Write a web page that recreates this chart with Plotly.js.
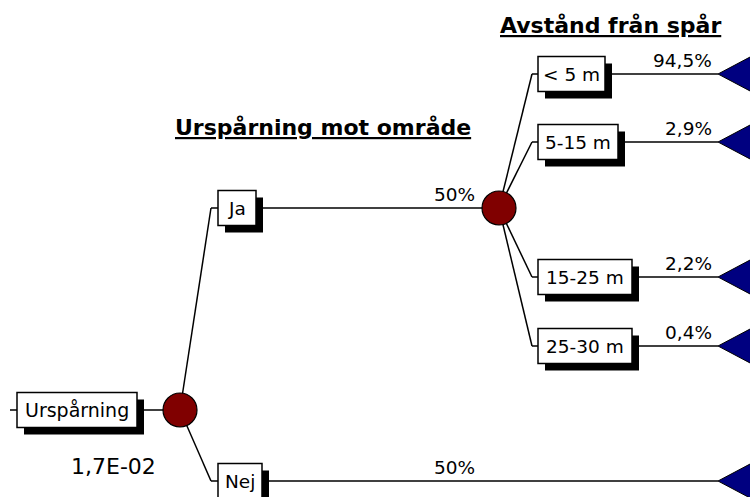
<!DOCTYPE html>
<html>
<head>
<meta charset="utf-8">
<script src="https://cdn.plot.ly/plotly-3.0.1.min.js"></script>
<style>html,body{margin:0;padding:0;background:#fff;}#chart{width:750px;height:497px;}</style>
</head>
<body>
<div id="chart"></div>
<script>
// ---- data ----
const rootLabel = "Urspårning";
const rootFrequency = 0.017;                 // shown as 1,7E-02
const columnTitles = ["Urspårning mot område", "Avstånd från spår"];
const level1Labels = ["Ja", "Nej"];
const level1Probs = [50, 50];               // percent
const level2Labels = ["< 5 m", "5-15 m", "15-25 m", "25-30 m"];
const level2Probs = [94.5, 2.9, 2.2, 0.4];  // percent

// ---- geometry (pixel-like coordinates of the diagram space) ----
const geo = {
  r: 17, boxH: 35, shadow: 7, tri: {len: 34, half: 18},
  root: {y: 410, stubL: 10, boxL: 17, boxR: 137, nodeX: 180},
  l1: {ys: [208, 481], elbowX: 211, boxL: 218, boxW: [38, 44], nodeX: 499, endX: 718, labelR: 477},
  l2: {ys: [74, 142, 277, 346], elbowX: 532, boxL: 538, boxW: [67, 80, 94, 94], endX: 718, labelR: 714},
  freq: {x: 113, y: 466},
  titles: [{x: 323, y: 127}, {x: 610, y: 25}]
};

const FONT = "DejaVu Sans, Arial, sans-serif";
const fmtPct = v => String(v).replace(".", ",") + "%";
function fmtSci(v) {
  const [m, e] = v.toExponential(1).split("e");
  const ei = parseInt(e, 10);
  return m.replace(".", ",") + "E" + (ei < 0 ? "-" : "+") + String(Math.abs(ei)).padStart(2, "0");
}

const lines = [], shadows = [], boxes = [], nodes = [], tris = [], ann = [];
const LN = {color: "#000", width: 1.5};
function seg(x0, y0, x1, y1) { lines.push({type: "line", xref: "x", yref: "y", x0, y0, x1, y1, line: LN}); }
function box(x0, x1, yc, label, size) {
  const y0 = yc - geo.boxH / 2, y1 = yc + geo.boxH / 2, s = geo.shadow;
  shadows.push({type: "rect", xref: "x", yref: "y", x0: x0 + s, x1: x1 + s, y0: y0 + s, y1: y1 + s, fillcolor: "#000", line: {width: 0}});
  boxes.push({type: "rect", xref: "x", yref: "y", x0, x1, y0, y1, fillcolor: "#fff", line: {color: "#000", width: 1.5}});
  ann.push({x: (x0 + x1) / 2, y: yc, xref: "x", yref: "y", text: label, showarrow: false,
    xanchor: "center", yanchor: "middle", font: {family: FONT, size: size, color: "#000"}});
}
function node(x, y) {
  nodes.push({type: "circle", xref: "x", yref: "y", x0: x - geo.r, x1: x + geo.r, y0: y - geo.r, y1: y + geo.r,
    fillcolor: "#800000", line: {color: "#000", width: 1.2}});
}
function tri(x, y) {
  tris.push({type: "path", xref: "x", yref: "y",
    path: `M${x},${y} L${x + geo.tri.len},${y - geo.tri.half} L${x + geo.tri.len},${y + geo.tri.half} Z`,
    fillcolor: "#000080", line: {color: "#000", width: 1}});
}
function pct(xr, y, v) {
  ann.push({x: xr, y: y - 1, xref: "x", yref: "y", text: fmtPct(v), showarrow: false,
    xanchor: "right", yanchor: "bottom", font: {family: FONT, size: 18.5, color: "#000"}});
}

// root
const R = geo.root;
seg(R.stubL, R.y, R.boxL, R.y);
seg(R.boxR, R.y, R.nodeX, R.y);
box(R.boxL, R.boxR, R.y, rootLabel, 19);
node(R.nodeX, R.y);
ann.push({x: geo.freq.x, y: geo.freq.y, xref: "x", yref: "y", text: fmtSci(rootFrequency), showarrow: false,
  xanchor: "center", yanchor: "middle", font: {family: FONT, size: 22, color: "#000"}});

// level 1
const L1 = geo.l1, L2 = geo.l2;
level1Labels.forEach((lab, i) => {
  const y = L1.ys[i], bR = L1.boxL + L1.boxW[i];
  seg(R.nodeX, R.y, L1.elbowX, y);
  seg(L1.elbowX, y, L1.boxL, y);
  box(L1.boxL, bR, y, lab, 18.5);
  if (i === 0) {
    seg(bR, y, L1.nodeX, y);
    node(L1.nodeX, y);
  } else {
    seg(bR, y, L1.endX, y);
    tri(L1.endX, y);
  }
  pct(L1.labelR, y, level1Probs[i]);
});

// level 2 (from "Ja" node)
const n2y = L1.ys[0];
level2Labels.forEach((lab, i) => {
  const y = L2.ys[i], bR = L2.boxL + L2.boxW[i];
  seg(L1.nodeX, n2y, L2.elbowX, y);
  seg(L2.elbowX, y, L2.boxL, y);
  box(L2.boxL, bR, y, lab, 18.5);
  seg(bR, y, L2.endX, y);
  tri(L2.endX, y);
  pct(L2.labelR, y, level2Probs[i]);
});

// column titles
columnTitles.forEach((t, i) => {
  ann.push({x: geo.titles[i].x, y: geo.titles[i].y, xref: "x", yref: "y", text: "<u>" + t + "</u>", showarrow: false,
    xanchor: "center", yanchor: "middle", font: {family: FONT, size: 22, color: "#000", weight: "bold"}});
});

const layout = {
  width: 750, height: 497,
  margin: {l: 0, r: 0, t: 0, b: 0},
  paper_bgcolor: "#fff", plot_bgcolor: "#fff",
  xaxis: {range: [0, 750], visible: false, fixedrange: true},
  yaxis: {range: [497, 0], visible: false, fixedrange: true},
  showlegend: false,
  shapes: [...lines, ...shadows, ...boxes, ...nodes, ...tris],
  annotations: ann
};
Plotly.newPlot("chart", [], layout, {staticPlot: true, displayModeBar: false});
</script>
</body>
</html>
